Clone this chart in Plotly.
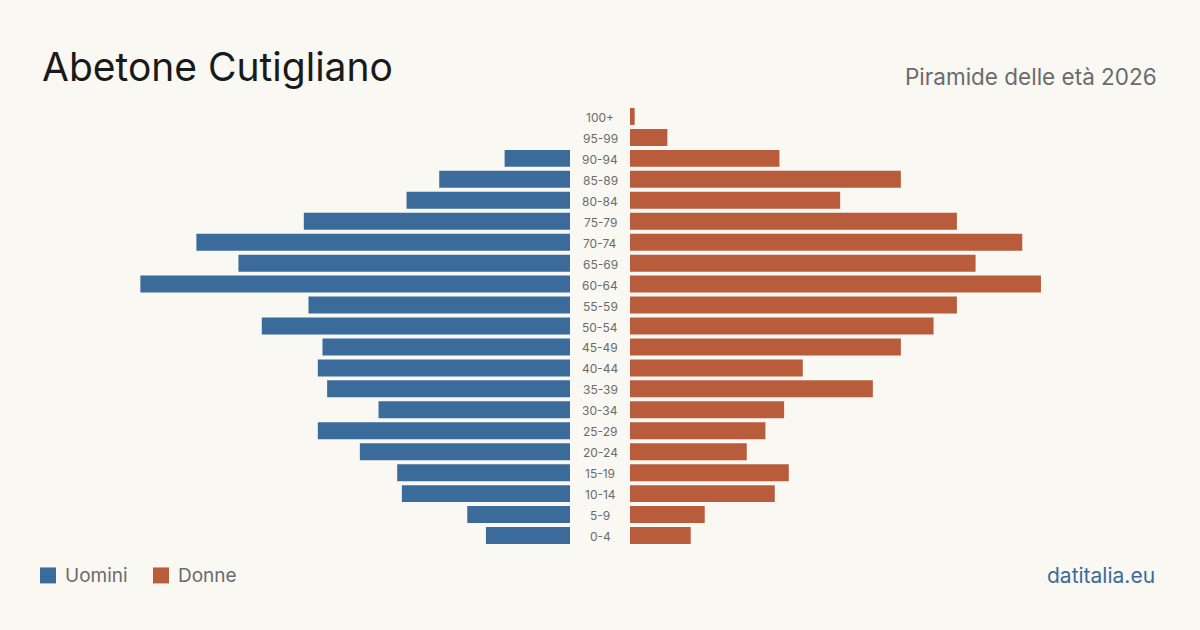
import plotly.graph_objects as go

age_groups = ["0-4", "5-9", "10-14", "15-19", "20-24", "25-29", "30-34", "35-39",
              "40-44", "45-49", "50-54", "55-59", "60-64", "65-69", "70-74",
              "75-79", "80-84", "85-89", "90-94", "95-99", "100+"]
men = [18, 22, 36, 37, 45, 54, 41, 52, 54, 53, 66, 56, 92, 71, 80, 57, 35, 28, 14, 0, 0]
women = [13, 16, 31, 34, 25, 29, 33, 52, 37, 58, 65, 70, 88, 74, 84, 70, 45, 58, 32, 8, 1]

BLUE = "#3b6b9b"
RED = "#b95c3b"
BG = "#f9f8f3"
W, H = 1200, 630
T, B = 105.5, 83.5
PH = H - T - B
RMAX = 530 / 4.67


def py(ypx):
    return (H - B - ypx) / PH


fig = go.Figure()
fig.add_trace(go.Bar(y=age_groups, x=men, orientation="h", marker_color=BLUE,
                     marker_line_width=0, xaxis="x", yaxis="y", name="Uomini", showlegend=False))
fig.add_trace(go.Bar(y=age_groups, x=women, orientation="h", marker_color=RED,
                     marker_line_width=0, xaxis="x2", yaxis="y", name="Donne", showlegend=False))

for g in age_groups:
    fig.add_annotation(x=600 / W, xref="paper", y=g, yref="y", yshift=-1, text=g, showarrow=False,
                       font=dict(size=12, color="#6b6b6b", family="Inter"), xanchor="center")

fig.add_annotation(x=40 / W, y=py(66), xref="paper", yref="paper", text="Abetone Cutigliano",
                   showarrow=False, xanchor="left", yanchor="middle",
                   font=dict(size=39, color="#1a1a1a", family="Inter"))
fig.add_annotation(x=1159 / W, y=py(76), xref="paper", yref="paper", text="Piramide delle età 2026",
                   showarrow=False, xanchor="right", yanchor="middle",
                   font=dict(size=22.5, color="#6b6b6b", family="Inter"))
fig.add_annotation(x=1157 / W, y=py(576), xref="paper", yref="paper", text="datitalia.eu",
                   showarrow=False, xanchor="right", yanchor="middle",
                   font=dict(size=21, color="#3b6b9b", family="Inter"))

for x0, col, label in [(40, BLUE, "Uomini"), (153, RED, "Donne")]:
    fig.add_shape(type="rect", xref="paper", yref="paper", x0=x0 / W, x1=(x0 + 16) / W,
                  y0=py(584), y1=py(568), fillcolor=col, line_width=0)
    fig.add_annotation(x=(x0 + 23) / W, y=py(576), xref="paper", yref="paper", text=label,
                       showarrow=False, xanchor="left", yanchor="middle",
                       font=dict(size=19, color="#6b6b6b", family="Inter"))

fig.update_layout(
    width=W, height=H,
    paper_bgcolor=BG, plot_bgcolor=BG,
    margin=dict(l=0, r=0, t=T, b=B),
    bargap=0.19,
    showlegend=False,
    xaxis=dict(domain=[40 / W, 570 / W], range=[RMAX, 0], visible=False, fixedrange=True),
    xaxis2=dict(domain=[630 / W, 1160 / W], range=[0, RMAX], visible=False, fixedrange=True),
    yaxis=dict(visible=False, categoryorder="array", categoryarray=age_groups,
               range=[-0.5, 20.5], fixedrange=True),
)

fig.write_html("out.html")
